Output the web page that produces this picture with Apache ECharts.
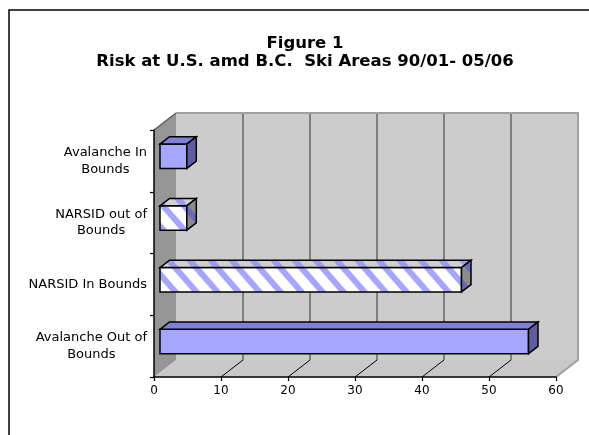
<!DOCTYPE html>
<html><head><meta charset="utf-8">
<script src="https://cdn.jsdelivr.net/npm/echarts@6/dist/echarts.min.js"></script>
<style>html,body{margin:0;padding:0;background:#fff}#c{width:589px;height:435px}</style>
</head><body><div id="c"></div>
<script>
// ---- data ----
const categories = ['Avalanche In Bounds', 'NARSID out of Bounds', 'NARSID In Bounds', 'Avalanche Out of Bounds'];
const categoryLabels = ['Avalanche In\nBounds', 'NARSID out of\nBounds', 'NARSID In Bounds', 'Avalanche Out of\nBounds'];
const values = [4, 4, 45, 55];
const xTicks = [0, 10, 20, 30, 40, 50, 60];
const titleText = 'Figure 1\nRisk at U.S. amd B.C.  Ski Areas 90/01- 05/06';

// ---- styling ----
const FONT = '"DejaVu Sans", Verdana, sans-serif';
const DX = 22, DY = 17;      // 3D box depth
const K = DY / DX;
const BX0 = 6, BDX = 9.5;    // bar front offset and bar depth
const striped = [false, true, true, false];

function stripeCanvas(bg, fg) {
  const W = 21, H = 24, S = 8;
  const c = document.createElement('canvas');
  c.width = W; c.height = H;
  const g = c.getContext('2d');
  g.fillStyle = bg; g.fillRect(0, 0, W, H);
  g.fillStyle = fg;
  for (let k = -2; k <= 1; k++) {
    const o = k * W;
    g.beginPath();
    g.moveTo(o, 0); g.lineTo(o + S, 0); g.lineTo(o + S + W, H); g.lineTo(o + W, H);
    g.closePath(); g.fill();
  }
  return c;
}
const patFront = { image: stripeCanvas('#ffffff', '#a6a6ff'), repeat: 'repeat' };
const patTop = { image: stripeCanvas('#d0d0d0', '#9c9cf0'), repeat: 'repeat' };
const patSide = { image: stripeCanvas('#8c8c8c', '#6a6ab8'), repeat: 'repeat' };

function renderWalls(params, api) {
  const cs = params.coordSys;
  const L = api.coord([xTicks[0], 0])[0];
  const R = api.coord([xTicks[xTicks.length - 1], 0])[0];
  const T = cs.y, B = cs.y + cs.height;
  const ch = [];
  ch.push({ type: 'polygon', shape: { points: [[L + DX, T - DY], [R + DX, T - DY], [R + DX, B - DY], [L + DX, B - DY]] },
    style: { fill: '#cccccc', stroke: null } });
  ch.push({ type: 'polygon', shape: { points: [[L, B], [R, B], [R + DX, B - DY], [L + DX, B - DY]] },
    style: { fill: '#c8c8c8', stroke: null } });
  ch.push({ type: 'polygon', shape: { points: [[L, T], [L + DX, T - DY], [L + DX, B - DY], [L, B]] },
    style: { fill: '#969696', stroke: null } });
  xTicks.forEach(t => {
    if (t === xTicks[0] || t === xTicks[xTicks.length - 1]) return;
    const x = api.coord([t, 0])[0];
    ch.push({ type: 'line', shape: { x1: x + DX, y1: T - DY, x2: x + DX, y2: B - DY }, style: { stroke: '#333333', lineWidth: 1 } });
  });
  xTicks.forEach(t => {
    if (t === xTicks[0] || t === xTicks[xTicks.length - 1]) return;
    const x = api.coord([t, 0])[0];
    ch.push({ type: 'line', shape: { x1: x, y1: B, x2: x + DX, y2: B - DY }, style: { stroke: '#000000', lineWidth: 1 } });
  });
  ch.push({ type: 'polyline', shape: { points: [[L + DX, T - DY], [R + DX, T - DY], [R + DX, B - DY], [R, B]] },
    style: { stroke: '#a0a0a0', lineWidth: 2, fill: null } });
  ch.push({ type: 'line', shape: { x1: L, y1: T, x2: L + DX, y2: T - DY }, style: { stroke: '#555555', lineWidth: 1.2 } });
  return { type: 'group', children: ch };
}

function renderBar(params, api) {
  const v = api.value(0), i = api.value(1);
  const p0 = api.coord([0, i]), p1 = api.coord([v, i]);
  const bh = api.size([0, 1])[1] * 0.395;
  const x0 = p0[0] + BX0, x1 = p1[0] + BX0, yc = p0[1] - BX0 * K;
  const yt = yc - bh / 2, yb = yc + bh / 2;
  const ddx = BDX, ddy = BDX * K;
  const s = striped[i];
  const st = { stroke: '#000000', lineWidth: 1.5, lineJoin: 'miter' };
  return { type: 'group', children: [
    { type: 'polygon', shape: { points: [[x0, yt], [x1, yt], [x1, yb], [x0, yb]] },
      style: Object.assign({ fill: s ? patFront : '#a6a6ff' }, st) },
    { type: 'polygon', shape: { points: [[x0, yt], [x0 + ddx, yt - ddy], [x1 + ddx, yt - ddy], [x1, yt]] },
      style: Object.assign({ fill: s ? patTop : '#8080d8' }, st) },
    { type: 'polygon', shape: { points: [[x1, yt], [x1 + ddx, yt - ddy], [x1 + ddx, yb - ddy], [x1, yb]] },
      style: Object.assign({ fill: s ? patSide : '#5e5e9e' }, st) }
  ] };
}

const chart = echarts.init(document.getElementById('c'), null, { renderer: 'canvas' });
chart.setOption({
  backgroundColor: '#ffffff',
  animation: false,
  title: {
    text: titleText, left: 300, top: 30, textAlign: 'center',
    textStyle: { fontFamily: FONT, fontSize: 16.5, fontWeight: 'bold', color: '#000', lineHeight: 18 }
  },
  graphic: [{ type: 'rect', shape: { x: 9, y: 10, width: 700, height: 600 }, style: { fill: null, stroke: '#000', lineWidth: 1.5 }, z: 100 }],
  grid: { left: 154, right: 33, top: 130, bottom: 58, containLabel: false },
  xAxis: {
    type: 'value', min: 0, max: 60, interval: 10, z: 10,
    axisLine: { show: true, lineStyle: { color: '#000', width: 1.5 } },
    axisTick: { show: true, length: 4, lineStyle: { color: '#000', width: 1.2 } },
    splitLine: { show: false },
    axisLabel: { margin: 8, fontFamily: FONT, fontSize: 12, color: '#000' }
  },
  yAxis: {
    type: 'category', data: categories, inverse: true, z: 10,
    axisLine: { show: true, lineStyle: { color: '#000', width: 1.5 } },
    axisTick: { show: true, length: 4, lineStyle: { color: '#000', width: 1.2 } },
    splitLine: { show: false },
    axisLabel: {
      margin: 7, align: 'right', fontFamily: FONT, fontSize: 13, color: '#000', lineHeight: 16.5,
      formatter: (v) => categoryLabels[categories.indexOf(v)].split('\n').map(l => '{c|' + l + '}').join('\n'),
      rich: { c: { align: 'center', fontFamily: FONT, fontSize: 13, color: '#000', lineHeight: 16.5 } }
    }
  },
  series: [
    { type: 'custom', z: 1, silent: true, renderItem: renderWalls, data: [[0, 0]], encode: { x: 0, y: 1 } },
    { type: 'custom', z: 3, renderItem: renderBar, data: values.map((v, i) => [v, i]), encode: { x: 0, y: 1 } }
  ]
});
</script></body></html>
